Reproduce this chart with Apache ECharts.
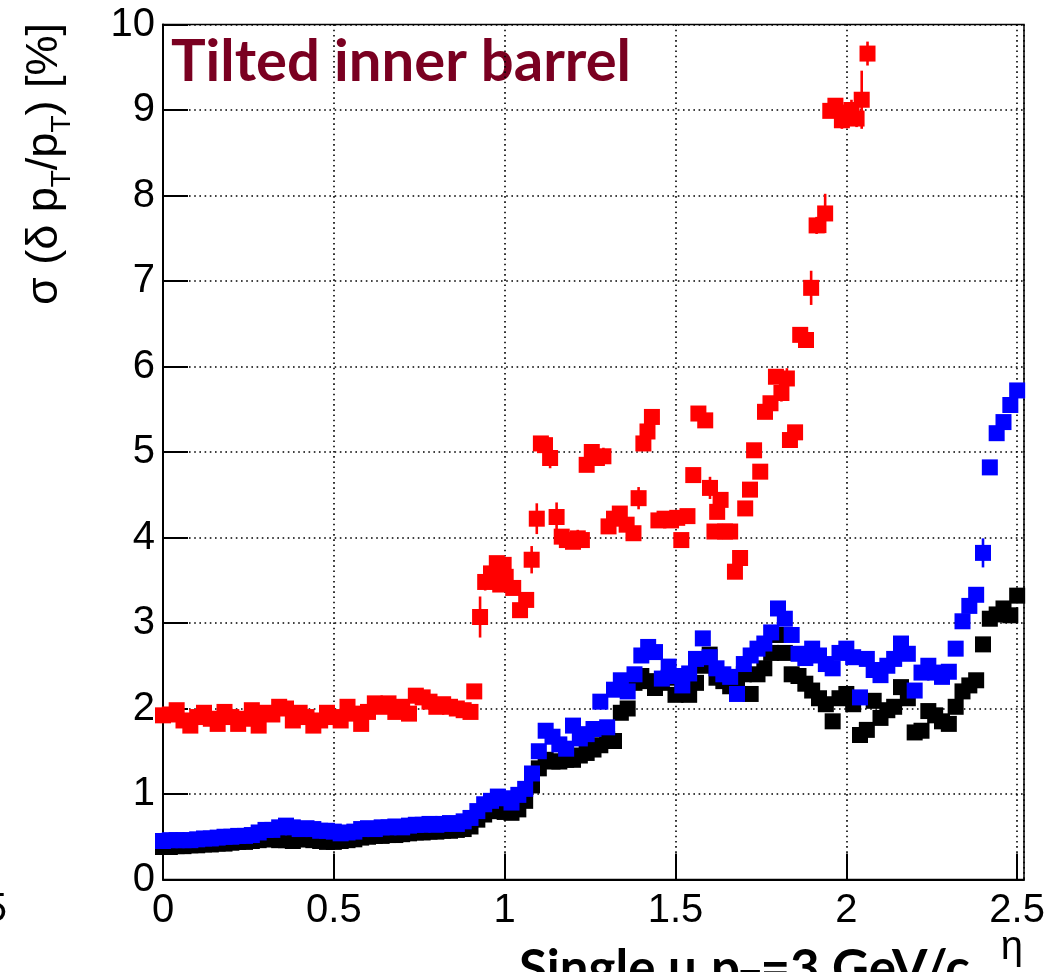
<!DOCTYPE html>
<html>
<head>
<meta charset="utf-8">
<script src="https://cdn.jsdelivr.net/npm/echarts@6/dist/echarts.min.js"></script>
<style>
  html, body { margin: 0; padding: 0; background: #ffffff; }
  #chart { width: 1051px; height: 972px; }
</style>
</head>
<body>
<div id="chart"></div>
<script>
// Pseudorapidity bin centres shared by the blue and black series
const eta = [
  0.00,0.02,0.04,0.06,0.08,0.10,0.12,0.14,0.16,0.18,
  0.20,0.22,0.24,0.26,0.28,0.30,0.32,0.34,0.36,0.38,
  0.40,0.42,0.44,0.46,0.48,0.50,0.52,0.54,0.56,0.58,
  0.60,0.62,0.64,0.66,0.68,0.70,0.72,0.74,0.76,0.78,
  0.80,0.82,0.84,0.86,0.88,0.90,0.92,0.94,0.96,0.98,
  1.00,1.02,1.04,1.06,1.08,1.10,1.12,1.14,1.16,1.18,
  1.20,1.22,1.24,1.26,1.28,1.30,1.32,1.34,1.36,1.38,
  1.40,1.42,1.44,1.46,1.48,1.50,1.52,1.54,1.56,1.58,
  1.60,1.62,1.64,1.66,1.68,1.70,1.72,1.74,1.76,1.78,
  1.80,1.82,1.84,1.86,1.88,1.90,1.92,1.94,1.96,1.98,
  2.00,2.02,2.04,2.06,2.08,2.10,2.12,2.14,2.16,2.18,
  2.20,2.22,2.24,2.26,2.28,2.30,2.32,2.34,2.36,2.38,
  2.40,2.42,2.44,2.46,2.48,2.50
];

// Relative pT resolution [%], blue markers
const blueRes = [
  0.45,0.46,0.46,0.46,0.46,0.47,0.48,0.48,0.49,0.50,
  0.50,0.51,0.51,0.52,0.55,0.58,0.58,0.61,0.63,0.61,
  0.59,0.60,0.59,0.57,0.57,0.56,0.54,0.55,0.56,0.59,
  0.60,0.59,0.61,0.61,0.62,0.61,0.63,0.64,0.64,0.65,
  0.64,0.65,0.66,0.65,0.68,0.72,0.80,0.88,0.92,0.97,
  0.95,0.90,0.99,1.06,1.24,1.50,1.74,1.67,1.58,1.53,
  1.80,1.65,1.70,1.76,2.08,1.78,2.22,2.33,2.20,2.40,
  2.62,2.72,2.66,2.35,2.49,2.38,2.27,2.41,2.58,2.82,
  2.60,2.47,2.40,2.37,2.17,2.52,2.62,2.70,2.76,2.89,
  3.17,3.05,2.86,2.64,2.59,2.70,2.62,2.52,2.47,2.65,
  2.70,2.60,2.13,2.58,2.45,2.39,2.50,2.58,2.76,2.64,
  2.21,2.42,2.50,2.42,2.37,2.43,2.70,3.02,3.20,3.33,
  3.82,4.82,5.22,5.35,5.55,5.72
];

// Relative pT resolution [%], black markers
const blackRes = [
  0.38,0.38,0.39,0.39,0.40,0.40,0.41,0.41,0.42,0.42,
  0.43,0.44,0.44,0.45,0.46,0.47,0.47,0.46,0.46,0.45,
  0.47,0.47,0.46,0.45,0.44,0.44,0.45,0.46,0.47,0.49,
  0.50,0.51,0.51,0.52,0.52,0.53,0.54,0.55,0.55,0.56,
  0.56,0.57,0.57,0.58,0.59,0.62,0.70,0.76,0.80,0.80,
  0.79,0.78,0.82,0.92,1.10,1.30,1.40,1.38,1.38,1.40,
  1.40,1.45,1.48,1.52,1.57,1.64,1.62,1.95,2.00,2.30,
  2.38,2.32,2.24,2.30,2.36,2.16,2.24,2.16,2.30,2.50,
  2.63,2.36,2.32,2.26,2.34,2.40,2.17,2.40,2.47,2.65,
  2.86,2.65,2.40,2.38,2.29,2.21,2.12,2.05,1.85,2.12,
  2.17,2.05,1.69,1.75,2.09,1.89,1.98,2.02,2.25,2.12,
  1.72,1.74,1.97,1.92,1.85,1.82,2.02,2.20,2.27,2.33,
  2.75,3.05,3.10,3.17,3.09,3.32
];

// Blue points whose error bar reaches outside the marker: [eta, error]
const blueErrBars = [[2.40, 0.17]];

// Red markers: bin centres, resolution [%] and statistical error [%]
const redEta = [
  0.00,0.02,0.04,0.06,0.08,0.10,0.12,0.14,0.16,0.18,
  0.20,0.22,0.24,0.26,0.28,0.30,0.32,0.34,0.36,0.38,
  0.40,0.42,0.44,0.46,0.48,0.50,0.52,0.54,0.56,0.58,
  0.60,0.62,0.64,0.66,0.68,0.70,0.72,0.74,0.76,0.78,
  0.80,0.82,0.84,0.86,0.88,0.90,
  0.911,0.928,0.943,0.960,0.977,0.987,0.997,1.003,1.025,1.045,
  1.063,1.079,1.094,1.106,1.118,1.133,1.152,1.167,1.182,1.200,
  1.214,1.226,1.240,1.255,1.270,1.289,1.304,1.320,1.337,1.357,
  1.377,1.392,1.406,1.418,1.431,1.450,1.468,1.487,1.505,1.517,
  1.535,1.552,1.567,1.587,1.601,1.614,1.622,1.632,1.645,1.660,
  1.674,1.689,1.704,1.718,1.730,1.748,1.762,1.778,1.794,1.810,
  1.826,1.835,1.850,1.865,1.882,1.897,1.913,1.938,1.953,1.968,
  1.987,2.000,2.015,2.030,2.045,2.062
];
const redRes = [
  1.92,1.93,1.98,1.86,1.80,1.90,1.95,1.88,1.82,1.96,
  1.90,1.82,1.88,1.98,1.80,1.95,1.93,2.02,2.00,1.86,
  1.95,1.90,1.80,1.86,1.95,1.90,1.86,2.02,1.94,1.82,
  1.96,2.06,2.02,2.06,1.96,2.02,1.94,2.15,2.13,2.08,
  2.02,2.05,2.02,2.00,1.98,1.96,
  2.20,3.07,3.48,3.58,3.70,3.45,3.68,3.54,3.41,3.15,
  3.27,3.74,4.22,5.10,5.08,4.93,4.24,4.01,3.97,3.95,
  3.99,3.97,4.85,5.00,4.93,4.95,4.13,4.22,4.28,4.15,
  4.05,4.46,5.10,5.24,5.41,4.20,4.22,4.20,4.23,3.97,
  4.25,4.73,5.45,5.37,4.58,4.07,4.30,4.44,4.07,4.07,
  3.60,3.76,4.34,4.56,5.02,4.77,5.47,5.57,5.88,5.69,
  5.86,5.14,5.23,6.37,6.31,6.92,7.65,7.79,8.99,9.05,
  8.88,8.97,9.00,8.90,9.12,9.66
];
const redErr = [
  0.04,0.04,0.04,0.04,0.04,0.04,0.04,0.04,0.04,0.04,
  0.04,0.04,0.04,0.04,0.04,0.04,0.04,0.04,0.04,0.04,
  0.04,0.04,0.04,0.04,0.04,0.04,0.04,0.04,0.04,0.04,
  0.04,0.04,0.04,0.04,0.04,0.04,0.04,0.04,0.04,0.04,
  0.04,0.04,0.04,0.04,0.04,0.04,
  0.03,0.24,0.10,0.06,0.06,0.05,0.05,0.05,0.06,0.06,
  0.08,0.16,0.18,0.08,0.06,0.12,0.17,0.06,0.06,0.05,
  0.10,0.05,0.06,0.08,0.06,0.10,0.06,0.06,0.06,0.06,
  0.06,0.13,0.06,0.06,0.06,0.06,0.06,0.05,0.05,0.06,
  0.05,0.08,0.08,0.08,0.13,0.05,0.05,0.06,0.05,0.08,
  0.06,0.06,0.06,0.07,0.06,0.06,0.07,0.06,0.06,0.10,
  0.12,0.05,0.07,0.05,0.05,0.20,0.10,0.23,0.06,0.07,
  0.10,0.08,0.12,0.10,0.34,0.14
];

// Axis tick values
const xTicks = [0, 0.5, 1, 1.5, 2, 2.5];
const yTicks = [0, 1, 2, 3, 4, 5, 6, 7, 8, 9, 10];

const AXIS_FONT = '"Liberation Sans", Arial, Helvetica, sans-serif';
const LABEL_FONT = 'Lato, "Open Sans", sans-serif';
const MARKER = 16;

const bluePts = eta.map((x, i) => [x, blueRes[i]]);
const blackPts = eta.map((x, i) => [x, blackRes[i]]);
const redPts = redEta.map((x, i) => [x, redRes[i], redErr[i]]);
const blueBars = blueErrBars.map(([x, e]) => [x, blueRes[eta.indexOf(x)], e]);

function errorBars(color) {
  return function (params, api) {
    const x = api.value(0), y = api.value(1), e = api.value(2);
    const hi = api.coord([x, y + e]);
    const lo = api.coord([x, y - e]);
    return {
      type: 'line',
      shape: { x1: hi[0], y1: hi[1], x2: lo[0], y2: lo[1] },
      style: { stroke: color, lineWidth: 2.6 },
      silent: true
    };
  };
}

function tickText(list) {
  return v => {
    const hit = list.find(t => Math.abs(t - v) < 1e-6);
    return hit === undefined ? '' : String(hit);
  };
}

const chart = echarts.init(document.getElementById('chart'), null, { renderer: 'canvas' });

chart.setOption({
  animation: false,
  backgroundColor: '#ffffff',
  grid: {
    left: 163, right: 27, top: 24.5, bottom: 92.5,
    show: true, borderColor: '#000', borderWidth: 1.5, backgroundColor: 'transparent'
  },
  xAxis: {
    type: 'value', min: 0, max: 2.52, interval: 0.5,
    axisLine: { show: true, onZero: false, lineStyle: { color: '#000', width: 2 } },
    axisTick: { show: true, inside: true, length: 26, lineStyle: { color: '#000', width: 2 } },
    axisLabel: {
      show: true, color: '#000', fontFamily: AXIS_FONT, fontSize: 40, margin: 11,
      showMaxLabel: false, formatter: tickText(xTicks)
    },
    splitLine: { show: true, lineStyle: { color: '#000', width: 1.6, type: [1.6, 3.6] } }
  },
  yAxis: {
    type: 'value', min: 0, max: 10, interval: 1,
    axisLine: { show: true, onZero: false, lineStyle: { color: '#000', width: 2 } },
    axisTick: { show: true, inside: true, length: 25, lineStyle: { color: '#000', width: 2 } },
    axisLabel: {
      show: true, color: '#000', fontFamily: AXIS_FONT, fontSize: 40, margin: 8,
      formatter: tickText(yTicks)
    },
    splitLine: { show: true, lineStyle: { color: '#000', width: 1.6, type: [1.6, 3.6] } }
  },
  series: [
    {
      type: 'scatter', name: 'black', data: blackPts, symbol: 'rect', symbolSize: MARKER,
      itemStyle: { color: '#000000', opacity: 1 }, clip: false, silent: true
    },
    {
      type: 'custom', name: 'blueErr', data: blueBars, renderItem: errorBars('#0000ff'),
      encode: { x: 0, y: 1 }, clip: false, silent: true
    },
    {
      type: 'scatter', name: 'blue', data: bluePts, symbol: 'rect', symbolSize: MARKER,
      itemStyle: { color: '#0000ff', opacity: 1 }, clip: false, silent: true
    },
    {
      type: 'custom', name: 'redErr', data: redPts, renderItem: errorBars('#ff0000'),
      encode: { x: 0, y: 1 }, clip: false, silent: true
    },
    {
      type: 'scatter', name: 'red', data: redPts, symbol: 'rect', symbolSize: MARKER,
      itemStyle: { color: '#ff0000', opacity: 1 }, clip: false, silent: true
    }
  ],
  graphic: [
    {
      type: 'text', x: 171, y: 33, silent: true,
      style: {
        text: 'Tilted inner barrel', fill: '#7a0021',
        fontFamily: LABEL_FONT, fontWeight: 'bold', fontSize: 58
      }
    },
    {
      type: 'text', x: 45, y: 23, rotation: Math.PI / 2, silent: true,
      style: {
        text: '{m|σ (δ p}{s|T}{m|/p}{s|T}{m|) [%]}',
        align: 'right', verticalAlign: 'middle',
        rich: {
          m: { fontFamily: AXIS_FONT, fontSize: 45, fill: '#000', lineHeight: 62, verticalAlign: 'middle' },
          s: { fontFamily: AXIS_FONT, fontSize: 28, fill: '#000', lineHeight: 15, verticalAlign: 'bottom' }
        }
      }
    },
    {
      type: 'text', x: 519, y: 939, silent: true,
      style: {
        text: '{m|Single μ p}{s|T}{m|=3 GeV/c}',
        rich: {
          m: { fontFamily: LABEL_FONT, fontWeight: 'bold', fontSize: 51, fill: '#000', lineHeight: 62, verticalAlign: 'middle' },
          s: { fontFamily: LABEL_FONT, fontWeight: 'bold', fontSize: 34, fill: '#000', lineHeight: 20, verticalAlign: 'bottom' }
        }
      }
    },
    {
      type: 'text', x: 1023, y: 928, silent: true,
      style: { text: 'η', align: 'right', fill: '#000', fontFamily: AXIS_FONT, fontSize: 40 }
    },
    {
      type: 'text', x: 7, y: 890, silent: true,
      style: { text: '2.5', align: 'right', fill: '#000', fontFamily: AXIS_FONT, fontSize: 40 }
    }
  ]
});
</script>
</body>
</html>
